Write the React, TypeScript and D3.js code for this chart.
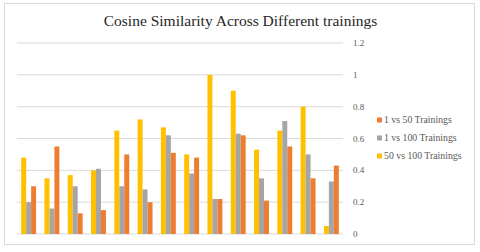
import React from "react";
import * as d3 from "d3";

const width = 480;
const height = 252;
const margin = { top: 43, right: 137, bottom: 18, left: 17 };

// values, one per group
const groups = d3.range(1, 15).map(String);
const vs50_100 = [0.48, 0.35, 0.37, 0.4, 0.65, 0.72, 0.67, 0.5, 1.0, 0.9, 0.53, 0.65, 0.8, 0.05];
const vs1_100 = [0.2, 0.16, 0.3, 0.41, 0.3, 0.28, 0.62, 0.38, 0.22, 0.63, 0.35, 0.71, 0.5, 0.33];
const vs1_50 = [0.3, 0.55, 0.13, 0.15, 0.5, 0.2, 0.51, 0.48, 0.22, 0.62, 0.21, 0.55, 0.35, 0.43];

const yTicks = [0, 0.2, 0.4, 0.6, 0.8, 1, 1.2];

// drawing order left to right within a group
const series = [
  { name: "50 vs 100 Trainings", values: vs50_100, color: "#FFC000" },
  { name: "1 vs 100 Trainings", values: vs1_100, color: "#A5A5A5" },
  { name: "1 vs 50 Trainings", values: vs1_50, color: "#ED7D31" },
];
// legend lists them the other way round
const legend = [...series].reverse();

const font = "'Liberation Serif', 'Times New Roman', serif";

export default function App() {
  const x0 = d3
    .scaleBand()
    .domain(groups)
    .range([margin.left, width - margin.right])
    .paddingInner(0.36)
    .paddingOuter(0.18);
  const x1 = d3
    .scaleBand()
    .domain(series.map(s => s.name))
    .range([0, x0.bandwidth()]);
  const y = d3
    .scaleLinear()
    .domain([0, 1.2])
    .range([height - margin.bottom, margin.top]);

  return (
    <svg
      width={width}
      height={height}
      style={{ position: "absolute", left: 0, top: 0, background: "#fff" }}
    >
      <rect x={4.5} y={3.5} width={470} height={241} fill="#fff" stroke="#D9D9D9" />
      <text x={240.5} y={26} textAnchor="middle" fontFamily={font} fontSize={15.5} fill="#262626">
        Cosine Similarity Across Different trainings
      </text>
      {yTicks.map(t => (
        <g key={t}>
          <line
            x1={margin.left}
            x2={width - margin.right}
            y1={y(t)}
            y2={y(t)}
            stroke="#D9D9D9"
            strokeWidth={1}
          />
          <text x={353} y={y(t) + 3} fontFamily={font} fontSize={9} fill="#595959">
            {t}
          </text>
        </g>
      ))}
      {series.map(s =>
        groups.map((g, i) => (
          <rect
            key={s.name + g}
            x={(x0(g) as number) + (x1(s.name) as number)}
            y={y(s.values[i])}
            width={x1.bandwidth()}
            height={y(0) - y(s.values[i])}
            fill={s.color}
          />
        ))
      )}
      {legend.map((s, i) => (
        <g key={s.name} transform={`translate(377, ${121 + i * 18})`}>
          <rect x={0} y={-3.5} width={5} height={5} fill={s.color} />
          <text x={7} y={2} fontFamily={font} fontSize={9.8} fill="#595959">
            {s.name}
          </text>
        </g>
      ))}
    </svg>
  );
}
